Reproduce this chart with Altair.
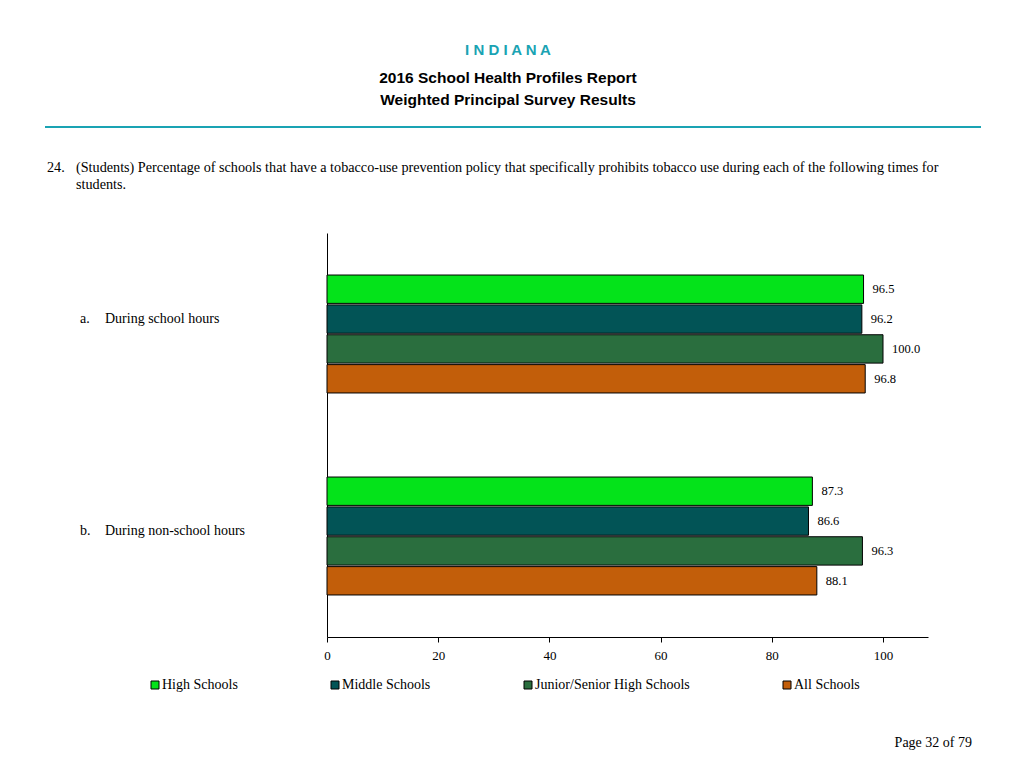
import altair as alt
import pandas as pd

categories = ["During school hours", "During non-school hours"]
letters = ["a.", "b."]
groups = ["High Schools", "Middle Schools", "Junior/Senior High Schools", "All Schools"]
high = [96.5, 87.3]
middle = [96.2, 86.6]
junior = [100.0, 96.3]
all_schools = [96.8, 88.1]
colors = ["#04e31a", "#025456", "#2a6e3e", "#c25e0a"]
x_ticks = [0, 20, 40, 60, 80, 100]

state = "I N D I A N A"
title1 = "2016 School Health Profiles Report"
title2 = "Weighted Principal Survey Results"
q_num = "24."
q_line1 = "(Students) Percentage of schools that have a tobacco-use prevention policy that specifically prohibits tobacco use during each of the following times for"
q_line2 = "students."
page = "Page 32 of 79"

rows = []
for i, c in enumerate(categories):
    for g, vals in zip(groups, [high, middle, junior, all_schools]):
        rows.append({"category": c, "group": g, "value": vals[i], "label": f"{vals[i]:.1f}"})
df = pd.DataFrame(rows)

W, H = 601, 404
OX, OY = 327, 233  # plot origin in page px
xmax = 100 * 601 / 556

SERIF = "Liberation Serif"
SANS = "Liberation Sans"

y_enc = alt.Y("category:N", sort=categories,
              scale=alt.Scale(paddingInner=0.416, paddingOuter=0.208),
              axis=alt.Axis(title=None, labels=False, ticks=False, grid=False,
                            domainColor="black", domainWidth=1))
yoff_enc = alt.YOffset("group:N", sort=groups,
                       scale=alt.Scale(paddingInner=0.05, paddingOuter=0))
x_enc = alt.X("value:Q", scale=alt.Scale(domain=[0, xmax], nice=False, zero=True),
              axis=alt.Axis(values=x_ticks, title=None, grid=False, domainColor="black",
                            tickColor="black", tickSize=5, labelFont=SERIF, labelFontSize=13,
                            labelColor="black", labelPadding=7, format="d", labelFlush=False))

bars = alt.Chart(df).mark_bar(stroke="black", strokeWidth=1).encode(
    x=x_enc, y=y_enc, yOffset=yoff_enc,
    color=alt.Color("group:N", sort=groups,
                    scale=alt.Scale(domain=groups, range=colors),
                    legend=alt.Legend(orient="none", legendX=148 - OX, legendY=678 - OY,
                                      direction="horizontal", title=None, symbolType="square",
                                      symbolSize=64, symbolStrokeColor="black",
                                      symbolStrokeWidth=1, labelFont=SERIF, labelFontSize=14,
                                      labelColor="black", columnPadding=90, labelOffset=0,
                                      symbolOpacity=1)),
)

labels = alt.Chart(df).mark_text(align="left", baseline="middle", dx=9, font=SERIF,
                                 fontSize=12.5, color="black").encode(
    x="value:Q", y=alt.Y("category:N", sort=categories), yOffset=alt.YOffset("group:N", sort=groups),
    text="label:N")

one = pd.DataFrame({"k": [0]})


def txt(s, x, y, **kw):
    return alt.Chart(one).mark_text(text=s, **kw).encode(x=alt.value(x - OX), y=alt.value(y - OY))


layers = [
    bars, labels,
    txt(state, 508, 50, font=SANS, fontWeight="bold", fontSize=15, color="#1aa3b3", align="center", baseline="middle"),
    txt(title1, 508, 78, font=SANS, fontWeight="bold", fontSize=15.5, color="black", align="center", baseline="middle"),
    txt(title2, 508, 100, font=SANS, fontWeight="bold", fontSize=15.5, color="black", align="center", baseline="middle"),
    alt.Chart(one).mark_rule(color="#1aa3b3", strokeWidth=2).encode(
        x=alt.value(45 - OX), x2=alt.value(981 - OX), y=alt.value(127 - OY)),
    txt(q_num, 47, 168, font=SERIF, fontSize=14.2, color="black", align="left", baseline="middle"),
    txt(q_line1, 76, 168, font=SERIF, fontSize=14.2, color="black", align="left", baseline="middle"),
    txt(q_line2, 76, 185, font=SERIF, fontSize=14.2, color="black", align="left", baseline="middle"),
    txt(letters[0], 80, 319, font=SERIF, fontSize=14, color="black", align="left", baseline="middle"),
    txt(categories[0], 105, 319, font=SERIF, fontSize=14, color="black", align="left", baseline="middle"),
    txt(letters[1], 80, 531, font=SERIF, fontSize=14, color="black", align="left", baseline="middle"),
    txt(categories[1], 105, 531, font=SERIF, fontSize=14, color="black", align="left", baseline="middle"),
    txt(page, 972, 743, font=SERIF, fontSize=14, color="black", align="right", baseline="middle"),
]

chart = alt.layer(*layers).properties(
    width=W, height=H, autosize="none",
    padding={"left": OX - 8, "top": OY - 8, "right": 80, "bottom": 115},
    background="white",
).configure_view(stroke=None)

chart.save("out.html", embed_options={"renderer": "svg", "actions": False})
